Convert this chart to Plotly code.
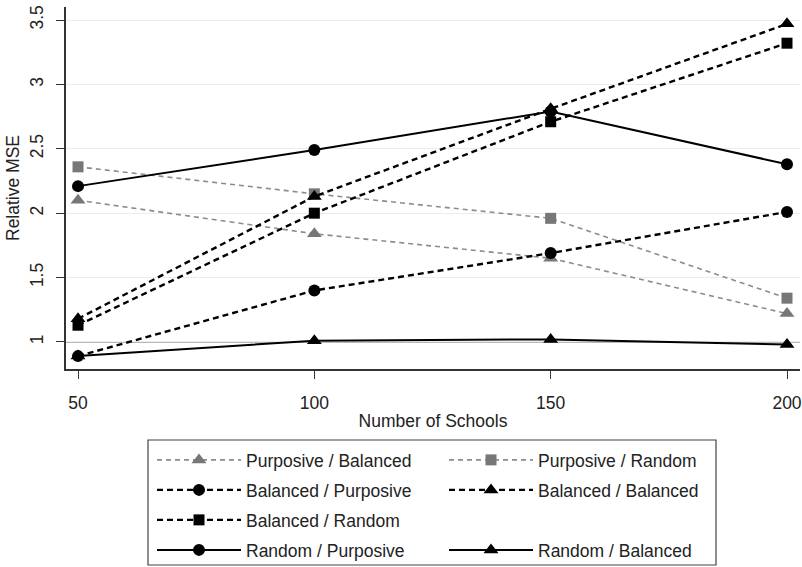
import plotly.graph_objects as go

schools = [50, 100, 150, 200]
purposive_balanced = [2.10, 1.84, 1.65, 1.22]
purposive_random = [2.36, 2.15, 1.96, 1.34]
balanced_purposive = [0.89, 1.40, 1.69, 2.01]
balanced_balanced = [1.18, 2.13, 2.81, 3.47]
balanced_random = [1.13, 2.00, 2.71, 3.32]
random_purposive = [2.21, 2.49, 2.79, 2.38]
random_balanced = [0.89, 1.01, 1.02, 0.98]

y_ticks = [1, 1.5, 2, 2.5, 3, 3.5]
y_labels = ["1", "1.5", "2", "2.5", "3", "3.5"]
x_ticks = [50, 100, 150, 200]

GRAY = "#8c8c8c"
GRAYM = "#777777"
BLACK = "#000000"

W, H = 802, 567
ML, MR, MT, MB = 66, 2, 7, 198
PW, PH = W - ML - MR, H - MT - MB

# name, values, line colour, marker colour, dash, width, symbol, size, legend row
series = [
    ("Purposive / Balanced", purposive_balanced, GRAY, GRAYM, "5px,4px", 1.6, "triangle-up", 13, "legend"),
    ("Purposive / Random", purposive_random, GRAY, GRAYM, "5px,4px", 1.6, "square", 11, "legend"),
    ("Balanced / Purposive", balanced_purposive, BLACK, BLACK, "6px,4px", 2.4, "circle", 12, "legend2"),
    ("Balanced / Balanced", balanced_balanced, BLACK, BLACK, "6px,4px", 2.4, "triangle-up", 13, "legend2"),
    ("Balanced / Random", balanced_random, BLACK, BLACK, "6px,4px", 2.4, "square", 11, "legend3"),
    ("Random / Purposive", random_purposive, BLACK, BLACK, "solid", 2, "circle", 12, "legend4"),
    ("Random / Balanced", random_balanced, BLACK, BLACK, "solid", 2, "triangle-up", 13, "legend4"),
]

fig = go.Figure()
for name, vals, lc, mc, dash, lw, sym, ms, lg in series:
    fig.add_trace(go.Scatter(
        x=schools, y=vals, mode="lines+markers", name=name, legend=lg,
        line=dict(color=lc, width=lw, dash=dash),
        marker=dict(color=mc, symbol=sym, size=ms),
    ))

fig.add_hline(y=1, line=dict(color="#666666", width=1), layer="below")

# legend frame
lx0, lx1, ly0, ly1 = 148, 716, 440, 565
fig.add_shape(type="rect", xref="paper", yref="paper",
              x0=(lx0 - ML) / PW, x1=(lx1 - ML) / PW,
              y0=(MT + PH - ly1) / PH, y1=(MT + PH - ly0) / PH,
              line=dict(color="#444444", width=1.2), fillcolor="rgba(0,0,0,0)")

row_centers = [460, 490, 520, 550]
legend_common = dict(
    orientation="h", xref="container", yref="container",
    xanchor="left", yanchor="middle",
    entrywidth=193, entrywidthmode="pixels",
    bgcolor="rgba(0,0,0,0)", borderwidth=0,
    font=dict(size=17.5, color="#222"), itemwidth=84,
    traceorder="normal",
)
legends = {}
for key, yc in zip(["legend", "legend2", "legend3", "legend4"], row_centers):
    legends[key] = dict(legend_common, x=152 / W, y=1 - yc / H)

fig.update_layout(
    width=W, height=H,
    margin=dict(l=ML, r=MR, t=MT, b=MB, autoexpand=False),
    paper_bgcolor="white", plot_bgcolor="white",
    font=dict(family="Liberation Sans, Arial, sans-serif", size=17.5, color="#222"),
    showlegend=True,
    **legends,
    xaxis=dict(
        range=[47.46, 202.75], tickvals=x_ticks, showgrid=False, zeroline=False,
        showline=True, linecolor="#333", linewidth=1.5,
        ticks="outside", ticklen=8, tickcolor="#333", ticklabelstandoff=9,
        title=dict(text="Number of Schools", font=dict(size=17.5), standoff=3),
        tickfont=dict(size=17.5),
    ),
    yaxis=dict(
        range=[0.790, 3.601], tickvals=y_ticks, ticktext=y_labels,
        showgrid=True, gridcolor="#ececec", gridwidth=1, zeroline=False,
        showline=True, linecolor="#333", linewidth=1.5,
        ticks="outside", ticklen=8, tickcolor="#333", ticklabelstandoff=6,
        tickangle=-90, tickfont=dict(size=17.5),
        title=dict(text="Relative MSE", font=dict(size=17.5), standoff=3),
    ),
)

fig.write_html("out.html")
